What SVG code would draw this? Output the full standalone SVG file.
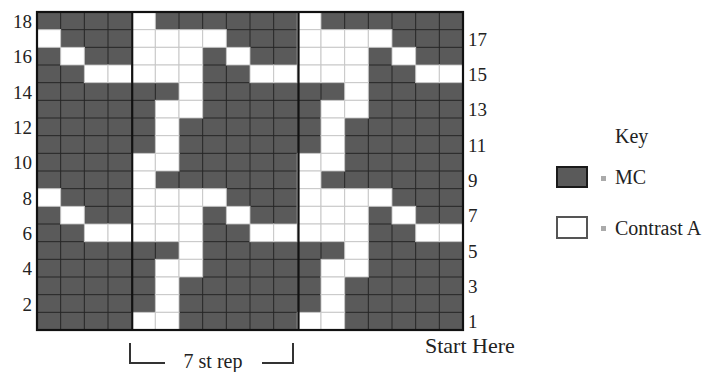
<svg xmlns="http://www.w3.org/2000/svg" xmlns:xlink="http://www.w3.org/1999/xlink" width="718" height="372" viewBox="0 0 718 372">
<style>
.t{font-family:"Liberation Serif","Times New Roman",serif;fill:#222;}
.n{font-size:19px;}
.l{font-size:20px;}
.w{fill:#fff;stroke:#c8c8c8;stroke-width:1;}
.grid{stroke:#262626;stroke-width:1;fill:none;}
.thick{stroke:#111;stroke-width:2.2;fill:none;}
</style>
<defs>
<rect id="w" width="23.67" height="17.67" class="w"/>
</defs>
<rect x="0" y="0" width="718" height="372" fill="#fff"/>
<g id="chart">
<rect x="37" y="12" width="426" height="318" fill="#5a5a5a"/>
<path class="grid" d="M60.67,12V330M84.33,12V330M108,12V330M155.33,12V330M179,12V330M202.67,12V330M226.33,12V330M250,12V330M273.67,12V330M321,12V330M344.67,12V330M368.33,12V330M392,12V330M415.67,12V330M439.33,12V330M37,29.67H463M37,47.33H463M37,65H463M37,82.67H463M37,100.33H463M37,118H463M37,135.67H463M37,153.33H463M37,171H463M37,188.67H463M37,206.33H463M37,224H463M37,241.67H463M37,259.33H463M37,277H463M37,294.67H463M37,312.33H463"/>
<g id="cells">
<use href="#w" x="131.67" y="12"/><use href="#w" x="297.33" y="12"/>
<use href="#w" x="37" y="29.67"/><use href="#w" x="131.67" y="29.67"/><use href="#w" x="155.33" y="29.67"/><use href="#w" x="179" y="29.67"/><use href="#w" x="202.67" y="29.67"/><use href="#w" x="297.33" y="29.67"/><use href="#w" x="321" y="29.67"/><use href="#w" x="344.67" y="29.67"/><use href="#w" x="368.33" y="29.67"/>
<use href="#w" x="60.67" y="47.33"/><use href="#w" x="131.67" y="47.33"/><use href="#w" x="155.33" y="47.33"/><use href="#w" x="179" y="47.33"/><use href="#w" x="226.33" y="47.33"/><use href="#w" x="297.33" y="47.33"/><use href="#w" x="321" y="47.33"/><use href="#w" x="344.67" y="47.33"/><use href="#w" x="392" y="47.33"/>
<use href="#w" x="84.33" y="65"/><use href="#w" x="108" y="65"/><use href="#w" x="131.67" y="65"/><use href="#w" x="155.33" y="65"/><use href="#w" x="179" y="65"/><use href="#w" x="250" y="65"/><use href="#w" x="273.67" y="65"/><use href="#w" x="297.33" y="65"/><use href="#w" x="321" y="65"/><use href="#w" x="344.67" y="65"/><use href="#w" x="415.67" y="65"/><use href="#w" x="439.33" y="65"/>
<use href="#w" x="179" y="82.67"/><use href="#w" x="344.67" y="82.67"/>
<use href="#w" x="155.33" y="100.33"/><use href="#w" x="179" y="100.33"/><use href="#w" x="321" y="100.33"/><use href="#w" x="344.67" y="100.33"/>
<use href="#w" x="155.33" y="118"/><use href="#w" x="321" y="118"/>
<use href="#w" x="155.33" y="135.67"/><use href="#w" x="321" y="135.67"/>
<use href="#w" x="131.67" y="153.33"/><use href="#w" x="155.33" y="153.33"/><use href="#w" x="297.33" y="153.33"/><use href="#w" x="321" y="153.33"/>
<use href="#w" x="131.67" y="171"/><use href="#w" x="297.33" y="171"/>
<use href="#w" x="37" y="188.67"/><use href="#w" x="131.67" y="188.67"/><use href="#w" x="155.33" y="188.67"/><use href="#w" x="179" y="188.67"/><use href="#w" x="202.67" y="188.67"/><use href="#w" x="297.33" y="188.67"/><use href="#w" x="321" y="188.67"/><use href="#w" x="344.67" y="188.67"/><use href="#w" x="368.33" y="188.67"/>
<use href="#w" x="60.67" y="206.33"/><use href="#w" x="131.67" y="206.33"/><use href="#w" x="155.33" y="206.33"/><use href="#w" x="179" y="206.33"/><use href="#w" x="226.33" y="206.33"/><use href="#w" x="297.33" y="206.33"/><use href="#w" x="321" y="206.33"/><use href="#w" x="344.67" y="206.33"/><use href="#w" x="392" y="206.33"/>
<use href="#w" x="84.33" y="224"/><use href="#w" x="108" y="224"/><use href="#w" x="131.67" y="224"/><use href="#w" x="155.33" y="224"/><use href="#w" x="179" y="224"/><use href="#w" x="250" y="224"/><use href="#w" x="273.67" y="224"/><use href="#w" x="297.33" y="224"/><use href="#w" x="321" y="224"/><use href="#w" x="344.67" y="224"/><use href="#w" x="415.67" y="224"/><use href="#w" x="439.33" y="224"/>
<use href="#w" x="179" y="241.67"/><use href="#w" x="344.67" y="241.67"/>
<use href="#w" x="155.33" y="259.33"/><use href="#w" x="179" y="259.33"/><use href="#w" x="321" y="259.33"/><use href="#w" x="344.67" y="259.33"/>
<use href="#w" x="155.33" y="277"/><use href="#w" x="321" y="277"/>
<use href="#w" x="155.33" y="294.67"/><use href="#w" x="321" y="294.67"/>
<use href="#w" x="131.67" y="312.33"/><use href="#w" x="155.33" y="312.33"/><use href="#w" x="297.33" y="312.33"/><use href="#w" x="321" y="312.33"/>
</g>
<path class="thick" d="M132.2,12V330M298.5,12V330"/>
<rect x="37" y="12" width="426" height="318" class="thick"/>
</g>
<g id="row-labels" class="t n">
<text x="32" y="28" text-anchor="end">18</text>
<text x="32" y="63.3" text-anchor="end">16</text>
<text x="32" y="98.7" text-anchor="end">14</text>
<text x="32" y="134" text-anchor="end">12</text>
<text x="32" y="169.3" text-anchor="end">10</text>
<text x="32" y="204.7" text-anchor="end">8</text>
<text x="32" y="240" text-anchor="end">6</text>
<text x="32" y="275.3" text-anchor="end">4</text>
<text x="32" y="310.7" text-anchor="end">2</text>
<text x="468" y="45.7">17</text>
<text x="468" y="81">15</text>
<text x="468" y="116.3">13</text>
<text x="468" y="151.7">11</text>
<text x="468" y="187">9</text>
<text x="468" y="222.3">7</text>
<text x="468" y="257.7">5</text>
<text x="468" y="293">3</text>
<text x="468" y="328.3">1</text>
</g>
<g id="start-here"><text class="t" font-size="22" x="425" y="353">Start Here</text></g>
<g id="repeat">
<path d="M130,343V363H165M262,363H293V343" fill="none" stroke="#333" stroke-width="2"/>
<text class="t l" x="213" y="368" text-anchor="middle">7 st rep</text>
</g>
<g id="key">
<text class="t l" x="615" y="143">Key</text>
<rect x="557" y="167" width="30" height="20" fill="#5a5a5a" stroke="#1a1a1a" stroke-width="2"/>
<rect x="601" y="176" width="5" height="5" fill="#aaa"/>
<text class="t l" x="615" y="184">MC</text>
<rect x="557" y="217" width="30" height="21" fill="#fff" stroke="#555" stroke-width="2"/>
<rect x="601" y="226" width="5" height="5" fill="#aaa"/>
<text class="t l" x="615" y="235">Contrast A</text>
</g>
</svg>
